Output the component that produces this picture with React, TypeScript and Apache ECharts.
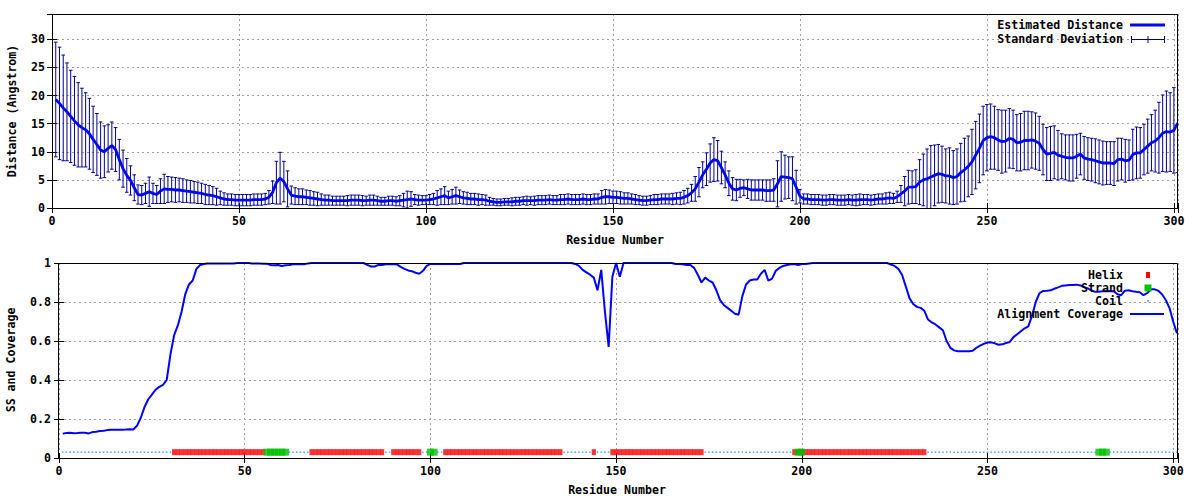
import React, { useEffect, useRef } from "react";
import * as echarts from "echarts";

// ---------------- data ----------------
const residues: number[] = Array.from({ length: 301 }, (_, i) => i + 1);

const meanDistance: number[] = [
  19.3, 18.6, 17.8, 17.1, 16.3, 15.5, 14.8, 14.3, 13.9, 13.2,
  12.2, 11.3, 10.3, 10.0, 10.6, 11.1, 10.4, 8.6, 7.0, 5.8,
  4.9, 3.6, 2.4, 2.3, 2.6, 2.9, 2.6, 2.4, 3.0, 3.4,
  3.3, 3.3, 3.2, 3.2, 3.1, 3.0, 2.9, 2.8, 2.7, 2.6,
  2.4, 2.3, 2.2, 2.0, 1.8, 1.6, 1.5, 1.5, 1.4, 1.4,
  1.4, 1.4, 1.4, 1.5, 1.5, 1.5, 1.6, 1.9, 2.8, 4.5,
  5.3, 4.7, 3.4, 2.3, 2.1, 2.0, 2.0, 1.9, 1.8, 1.7,
  1.6, 1.5, 1.4, 1.4, 1.3, 1.3, 1.3, 1.3, 1.3, 1.4,
  1.4, 1.4, 1.3, 1.3, 1.4, 1.4, 1.3, 1.2, 1.2, 1.3,
  1.3, 1.2, 1.3, 1.4, 1.5, 1.6, 1.5, 1.4, 1.4, 1.4,
  1.5, 1.6, 1.8, 2.0, 2.2, 1.8, 2.0, 2.2, 2.0, 1.8,
  1.7, 1.6, 1.6, 1.5, 1.5, 1.4, 1.2, 1.1, 1.0, 1.0,
  1.1, 1.1, 1.1, 1.2, 1.2, 1.3, 1.3, 1.3, 1.3, 1.4,
  1.4, 1.4, 1.5, 1.4, 1.4, 1.5, 1.5, 1.6, 1.5, 1.5,
  1.5, 1.6, 1.5, 1.5, 1.6, 1.6, 1.9, 2.0, 2.0, 1.9,
  1.9, 1.8, 1.7, 1.7, 1.6, 1.5, 1.4, 1.3, 1.3, 1.4,
  1.5, 1.5, 1.6, 1.6, 1.6, 1.6, 1.7, 1.7, 1.9, 2.2,
  2.7, 3.4, 4.6, 5.9, 6.9, 8.0, 8.6, 8.4, 7.2, 5.9,
  4.4, 3.4, 3.2, 3.5, 3.6, 3.4, 3.2, 3.2, 3.2, 3.2,
  3.1, 3.1, 3.2, 4.3, 5.6, 5.5, 5.4, 5.2, 3.7, 2.1,
  1.6, 1.6, 1.5, 1.5, 1.5, 1.4, 1.4, 1.5, 1.5, 1.4,
  1.4, 1.4, 1.5, 1.4, 1.4, 1.5, 1.5, 1.5, 1.4, 1.5,
  1.6, 1.6, 1.7, 1.8, 1.7, 2.0, 2.5, 3.0, 3.7, 3.7,
  3.8, 4.6, 5.0, 5.2, 5.5, 5.8, 6.1, 6.0, 5.7, 5.7,
  5.4, 5.6, 6.3, 6.8, 7.4, 8.2, 9.4, 10.6, 12.0, 12.5,
  12.7, 12.5, 12.1, 11.8, 11.9, 12.4, 12.2, 11.6, 11.7, 12.0,
  12.0, 12.1, 11.9, 11.5, 10.4, 9.6, 9.7, 9.9, 9.4, 9.2,
  9.0, 8.9, 8.9, 9.2, 9.6, 8.9, 8.7, 8.6, 8.4, 8.2,
  8.0, 8.0, 8.0, 7.9, 8.6, 8.7, 8.4, 8.5, 9.5, 9.8,
  9.8, 10.4, 11.0, 11.6, 11.9, 12.5, 13.3, 13.6, 13.5, 13.8,
  15.1,
];

const stdDeviation: number[] = [
  10.2, 10.0, 9.4, 8.7, 8.2, 7.9, 7.5, 7.0, 6.6, 6.3,
  5.9, 5.5, 5.0, 4.6, 4.2, 4.2, 3.9, 3.6, 3.3, 3.0,
  2.6, 2.3, 1.7, 1.7, 1.8, 2.6, 1.8, 1.6, 2.2, 2.6,
  2.3, 2.2, 2.2, 2.1, 2.1, 2.0, 2.0, 1.9, 1.9, 1.8,
  1.8, 1.7, 1.6, 1.5, 1.2, 1.1, 1.0, 1.0, 1.0, 1.0,
  1.0, 1.0, 1.0, 1.0, 1.0, 1.0, 1.0, 1.2, 2.0, 3.8,
  4.6, 3.6, 3.2, 1.6, 1.5, 1.4, 1.4, 1.3, 1.3, 1.2,
  1.2, 1.0, 0.9, 0.9, 0.8, 0.8, 0.8, 0.8, 0.9, 0.9,
  0.9, 0.9, 0.9, 0.8, 0.9, 0.9, 0.8, 0.7, 0.7, 0.8,
  0.8, 0.8, 0.9, 1.2, 1.5, 1.3, 0.9, 0.9, 0.8, 0.8,
  0.9, 1.0, 1.3, 1.4, 1.6, 1.2, 1.3, 1.5, 1.2, 1.1,
  1.1, 1.0, 1.0, 1.0, 0.9, 0.9, 0.7, 0.6, 0.6, 0.6,
  0.6, 0.6, 0.7, 0.7, 0.7, 0.7, 0.8, 0.7, 0.8, 0.8,
  0.8, 0.8, 0.8, 0.8, 0.8, 0.9, 0.9, 0.9, 0.9, 0.9,
  0.9, 0.9, 0.9, 0.9, 0.9, 0.9, 1.2, 1.3, 1.2, 1.1,
  1.1, 1.1, 1.0, 1.0, 0.9, 0.9, 0.8, 0.8, 0.8, 0.8,
  0.9, 0.9, 0.9, 0.9, 0.9, 1.0, 1.0, 1.1, 1.2, 1.3,
  1.5, 2.2, 2.6, 2.3, 2.9, 3.4, 3.9, 3.6, 2.9, 2.3,
  2.2, 2.0, 1.9, 1.6, 1.4, 1.7, 1.8, 1.8, 1.8, 1.8,
  1.9, 1.9, 2.0, 4.1, 4.4, 3.9, 3.7, 3.9, 3.0, 1.2,
  0.9, 0.9, 0.9, 0.9, 0.9, 0.9, 0.9, 0.9, 0.9, 0.9,
  0.9, 0.9, 0.9, 0.9, 1.0, 1.0, 0.9, 0.9, 0.9, 0.9,
  0.9, 0.9, 1.0, 1.0, 0.9, 1.0, 1.5, 2.6, 3.0, 2.9,
  3.0, 4.0, 4.6, 5.3, 5.6, 5.4, 5.2, 5.0, 4.8, 5.0,
  4.8, 4.9, 5.2, 5.6, 5.4, 5.8, 6.0, 6.1, 6.1, 5.9,
  5.8, 5.6, 5.4, 5.6, 5.5, 5.3, 5.2, 5.0, 5.1, 5.2,
  5.2, 5.0, 5.0, 4.8, 4.5, 4.7, 4.8, 4.7, 4.4, 4.0,
  4.0, 4.1, 4.1, 3.9, 3.7, 3.8, 3.8, 3.8, 3.9, 3.9,
  3.9, 3.8, 3.8, 3.9, 3.8, 3.7, 3.8, 3.6, 4.5, 4.6,
  4.5, 4.5, 4.8, 5.0, 5.5, 6.3, 6.8, 7.2, 7.0, 7.6,
  8.8,
];

const alignmentCoverage: number[] = [
  0.125, 0.128, 0.13, 0.127, 0.128, 0.13, 0.13, 0.126, 0.133, 0.135,
  0.138, 0.14, 0.143, 0.145, 0.145, 0.145, 0.145, 0.146, 0.148, 0.146,
  0.165, 0.205, 0.26, 0.3, 0.325, 0.35, 0.365, 0.375, 0.4, 0.53,
  0.63, 0.68, 0.75, 0.84, 0.89, 0.91, 0.97, 0.99, 0.995, 0.997,
  0.997, 0.997, 0.997, 0.997, 0.998, 0.998, 0.998, 1, 1, 1,
  1, 0.998, 0.997, 0.997, 0.996, 0.996, 0.99, 0.988, 0.99, 0.985,
  0.988, 0.99, 0.993, 0.993, 0.993, 0.993, 0.998, 1, 1, 1,
  1, 1, 1, 1, 1, 1, 1, 1, 1, 1,
  1, 1, 0.99, 0.982, 0.982, 0.99, 0.99, 0.993, 0.993, 0.993,
  0.993, 0.98, 0.97, 0.962, 0.958, 0.95, 0.945, 0.96, 0.985, 0.995,
  0.995, 0.995, 0.995, 0.995, 0.995, 0.995, 0.995, 0.995, 1, 1,
  1, 1, 1, 1, 1, 1, 1, 1, 1, 1,
  1, 1, 1, 1, 1, 1, 1, 1, 1, 1,
  1, 1, 1, 1, 1, 1, 1, 1, 0.995, 0.985,
  0.965, 0.952, 0.94, 0.925, 0.86, 0.965, 0.75, 0.57, 0.93, 1,
  0.93, 1, 1, 1, 1, 1, 1, 1, 1, 1,
  1, 1, 1, 1, 1, 0.995, 0.995, 0.993, 0.99, 0.99,
  0.975, 0.94, 0.9, 0.925, 0.91, 0.9, 0.86, 0.81, 0.785, 0.77,
  0.755, 0.74, 0.735, 0.83, 0.89, 0.91, 0.915, 0.915, 0.945, 0.965,
  0.91, 0.92, 0.96, 0.975, 0.985, 0.99, 0.993, 0.995, 0.99, 0.995,
  0.995, 0.998, 1, 1, 1, 1, 1, 1, 1, 1,
  1, 1, 1, 1, 1, 1, 1, 1, 1, 1,
  1, 1, 1, 0.992, 0.985, 0.97, 0.94, 0.88, 0.82, 0.79,
  0.775, 0.77, 0.755, 0.71, 0.695, 0.685, 0.67, 0.655, 0.6, 0.565,
  0.552, 0.547, 0.547, 0.547, 0.547, 0.55, 0.565, 0.576, 0.585, 0.592,
  0.593, 0.588, 0.581, 0.583, 0.59, 0.595, 0.62, 0.635, 0.65, 0.665,
  0.675, 0.73, 0.8, 0.845, 0.857, 0.858, 0.86, 0.868, 0.875, 0.883,
  0.885, 0.887, 0.887, 0.889, 0.885, 0.876, 0.87, 0.86, 0.852, 0.853,
  0.855, 0.855, 0.856, 0.855, 0.84, 0.835, 0.858, 0.86, 0.855, 0.852,
  0.85, 0.835, 0.845, 0.865, 0.865, 0.858, 0.84, 0.81, 0.77, 0.7,
  0.64,
];

// secondary structure segments [first residue, last residue]
const helixSegments: [number, number][] = [
  [31, 55], [68, 87], [90, 97], [104, 135], [144, 144], [149, 173], [198, 233],
];
const strandSegments: [number, number][] = [
  [56, 61], [100, 101], [199, 200], [280, 282],
];
const ssLevel = 0.03;

// ---------------- styling ----------------
const FONT = '"DejaVu Sans Mono", "Liberation Mono", monospace';
const FS = 11.6;
const labelStyle = { fontFamily: FONT, fontWeight: "bold" as const, fontSize: FS, color: "#000" };
const gridLine = { show: true, lineStyle: { color: "#a0a0a0", type: [2, 3] as any, width: 1 } };
const tickIn = { show: true, inside: true, length: 5, lineStyle: { color: "#000", width: 1 } };
const DIST_COLOR = "#0008f0";
const BAR_COLOR = "#000090";
const COV_COLOR = "#0000ff";

const inSegs = (r: number, segs: [number, number][]) => segs.some(([a, b]) => r >= a && r <= b);

function txt(text: string, x: number, y: number, align: string, rotation = 0) {
  return {
    type: "text",
    x,
    y,
    rotation,
    z: 100,
    style: {
      text,
      fill: "#000",
      font: `bold ${FS}px ${FONT}`,
      textAlign: align,
      align,
      textVerticalAlign: "middle",
      verticalAlign: "middle",
    },
  };
}
function seg(x1: number, y1: number, x2: number, y2: number, stroke: string, lineWidth: number) {
  return { type: "line", z: 100, shape: { x1, y1, x2, y2 }, style: { stroke, lineWidth } };
}

export default function App() {
  const ref = useRef<HTMLDivElement>(null);

  useEffect(() => {
    if (!ref.current) return;
    const chart = echarts.init(ref.current, undefined, { renderer: "svg" });

    const barData = residues.map((r, i) => [r, meanDistance[i] - stdDeviation[i], meanDistance[i] + stdDeviation[i]]);
    const meanData = residues.map((r, i) => [r, meanDistance[i]]);
    const covData = residues.map((r, i) => [r, alignmentCoverage[i]]);
    const helixData = residues.filter((r) => inSegs(r, helixSegments)).map((r) => [r, ssLevel]);
    const strandData = residues.filter((r) => inSegs(r, strandSegments)).map((r) => [r, ssLevel]);
    const coilData = residues
      .filter((r) => !inSegs(r, helixSegments) && !inSegs(r, strandSegments))
      .map((r) => [r, ssLevel]);

    const xFmt = (v: number) => (Math.abs(v % 50) < 1e-6 ? String(v) : "");
    const yFmt = (v: number) => (Math.abs(v % 5) < 1e-6 ? String(v) : "");

    const G1 = { left: 52, top: 14, width: 1126, height: 194 };
    const G2 = { left: 59, top: 263, width: 1119, height: 195 };

    const option: any = {
      animation: false,
      backgroundColor: "#ffffff",
      grid: [
        { ...G1, containLabel: false },
        { ...G2, containLabel: false },
      ],
      xAxis: [
        {
          type: "value", gridIndex: 0, min: 0, max: 301.1, interval: 50,
          axisLine: { show: false }, axisTick: tickIn,
          axisLabel: { ...labelStyle, margin: 7, formatter: xFmt },
          splitLine: gridLine,
        },
        {
          type: "value", gridIndex: 0, position: "top", min: 0, max: 301.1, interval: 50,
          axisLine: { show: false }, axisTick: tickIn, axisLabel: { show: false }, splitLine: { show: false },
        },
        {
          type: "value", gridIndex: 1, min: 0, max: 301.3, interval: 50,
          axisLine: { show: false }, axisTick: tickIn,
          axisLabel: { ...labelStyle, margin: 7, formatter: xFmt },
          splitLine: gridLine,
        },
        {
          type: "value", gridIndex: 1, position: "top", min: 0, max: 301.3, interval: 50,
          axisLine: { show: false }, axisTick: tickIn, axisLabel: { show: false }, splitLine: { show: false },
        },
      ],
      yAxis: [
        {
          type: "value", gridIndex: 0, min: 0, max: 34.5, interval: 5,
          axisLine: { show: false }, axisTick: tickIn,
          axisLabel: { ...labelStyle, margin: 7, formatter: yFmt },
          splitLine: gridLine,
        },
        {
          type: "value", gridIndex: 0, position: "right", min: 0, max: 34.5, interval: 5,
          axisLine: { show: false }, axisTick: tickIn, axisLabel: { show: false }, splitLine: { show: false },
        },
        {
          type: "value", gridIndex: 1, min: 0, max: 1, interval: 0.2,
          axisLine: { show: false }, axisTick: tickIn,
          axisLabel: { ...labelStyle, margin: 8 },
          splitLine: gridLine,
        },
        {
          type: "value", gridIndex: 1, position: "right", min: 0, max: 1, interval: 0.2,
          axisLine: { show: false }, axisTick: tickIn, axisLabel: { show: false }, splitLine: { show: false },
        },
      ],
      series: [
        {
          name: "Standard Deviation",
          type: "custom",
          xAxisIndex: 0,
          yAxisIndex: 0,
          clip: true,
          z: 2,
          encode: { x: 0, y: [1, 2] },
          data: barData,
          renderItem: (params: any, api: any) => {
            const x = api.value(0);
            const p1 = api.coord([x, api.value(1)]);
            const p2 = api.coord([x, api.value(2)]);
            const c = 1.8;
            const st = { stroke: BAR_COLOR, lineWidth: 1 };
            return {
              type: "group",
              children: [
                { type: "line", shape: { x1: p1[0], y1: p1[1], x2: p2[0], y2: p2[1] }, style: st },
                { type: "line", shape: { x1: p1[0] - c, y1: p1[1], x2: p1[0] + c, y2: p1[1] }, style: st },
                { type: "line", shape: { x1: p2[0] - c, y1: p2[1], x2: p2[0] + c, y2: p2[1] }, style: st },
              ],
            };
          },
        },
        {
          name: "Estimated Distance",
          type: "line",
          xAxisIndex: 0,
          yAxisIndex: 0,
          z: 3,
          showSymbol: false,
          symbol: "none",
          data: meanData,
          lineStyle: { color: DIST_COLOR, width: 2.8 },
        },
        {
          name: "Coil",
          type: "scatter",
          xAxisIndex: 2,
          yAxisIndex: 2,
          symbol: "rect",
          symbolSize: [1.5, 1.5],
          itemStyle: { color: "#1a8cff" },
          data: coilData,
          z: 2,
        },
        {
          name: "Helix",
          type: "scatter",
          xAxisIndex: 2,
          yAxisIndex: 2,
          symbol: "rect",
          symbolSize: [4.2, 6],
          itemStyle: { color: "#ff0000" },
          data: helixData,
          z: 3,
        },
        {
          name: "Strand",
          type: "scatter",
          xAxisIndex: 2,
          yAxisIndex: 2,
          symbol: "rect",
          symbolSize: [7, 7],
          itemStyle: { color: "#00c000" },
          data: strandData,
          z: 4,
        },
        {
          name: "Alignment Coverage",
          type: "line",
          xAxisIndex: 2,
          yAxisIndex: 2,
          clip: false,
          showSymbol: false,
          symbol: "none",
          data: covData,
          lineStyle: { color: COV_COLOR, width: 2 },
          z: 5,
        },
      ],
      graphic: [
        // frames
        {
          type: "rect", z: 90,
          shape: { x: G1.left + 0.5, y: G1.top + 0.5, width: G1.width - 1, height: G1.height },
          style: { fill: "none", stroke: "#000", lineWidth: 1 },
        },
        {
          type: "rect", z: 90,
          shape: { x: G2.left - 0.5, y: G2.top + 0.5, width: G2.width, height: G2.height },
          style: { fill: "none", stroke: "#000", lineWidth: 1 },
        },
        // axis titles
        txt("Distance (Angstrom)", 12, 111, "center", Math.PI / 2),
        txt("Residue Number", 615, 240, "center"),
        txt("SS and Coverage", 11, 360, "center", Math.PI / 2),
        txt("Residue Number", 617, 490, "center"),
        // top legend
        txt("Estimated Distance", 1123, 25, "right"),
        seg(1130, 25, 1165, 25, DIST_COLOR, 2.8),
        txt("Standard Deviation", 1123, 39, "right"),
        seg(1131.5, 39.5, 1164.5, 39.5, BAR_COLOR, 1),
        seg(1131.5, 36, 1131.5, 43, BAR_COLOR, 1),
        seg(1164.5, 36, 1164.5, 43, BAR_COLOR, 1),
        seg(1148, 36, 1148, 43, BAR_COLOR, 1),
        // bottom legend
        txt("Helix", 1123, 275, "right"),
        { type: "rect", z: 100, shape: { x: 1146, y: 272, width: 4, height: 6 }, style: { fill: "#ff0000" } },
        txt("Strand", 1123, 288, "right"),
        { type: "rect", z: 100, shape: { x: 1144.5, y: 284.5, width: 7, height: 7 }, style: { fill: "#00c000" } },
        txt("Coil", 1123, 301, "right"),
        { type: "rect", z: 100, shape: { x: 1147.3, y: 300, width: 1.5, height: 1.5 }, style: { fill: "#1a8cff" } },
        txt("Alignment Coverage", 1123, 314, "right"),
        seg(1130, 314, 1164, 314, COV_COLOR, 2),
      ],
    };

    chart.setOption(option);
    return () => chart.dispose();
  }, []);

  return (
    <div
      ref={ref}
      style={{ position: "fixed", left: 0, top: 0, width: 1200, height: 500, background: "#fff" }}
    />
  );
}
